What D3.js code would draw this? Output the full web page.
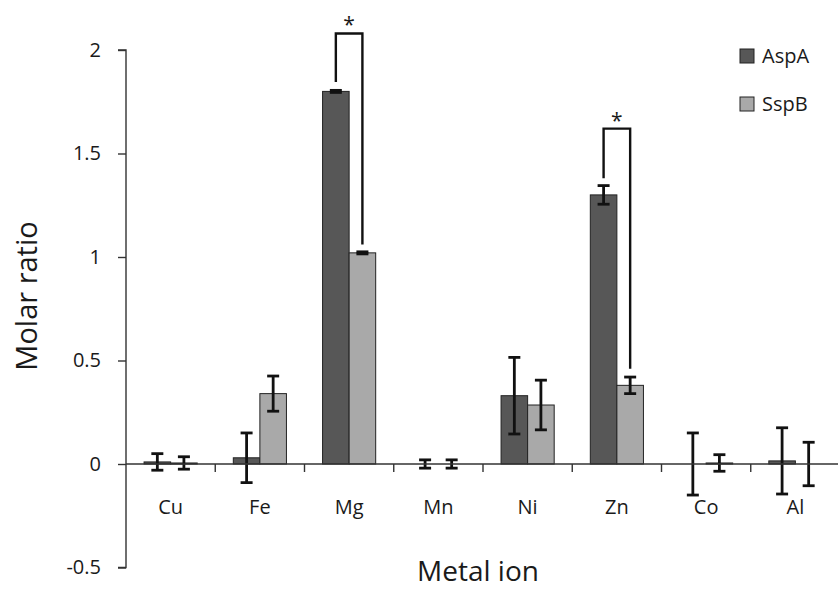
<!DOCTYPE html>
<html>
<head>
<meta charset="utf-8">
<script src="https://d3js.org/d3.v7.min.js"></script>
<style>
  body { margin: 0; background: #fff; }
  svg text { font-family: "Open Sans", sans-serif; fill: #1a1a1a; }
</style>
</head>
<body>
<svg width="838" height="591"></svg>
<script>
// data
var metals = ["Cu", "Fe", "Mg", "Mn", "Ni", "Zn", "Co", "Al"];
var series = ["AspA", "SspB"];
var aspA    = [0.01, 0.03, 1.80, 0.00, 0.33, 1.30, 0.00, 0.015];
var aspAErr = [0.04, 0.12, 0.005, 0.02, 0.185, 0.045, 0.15, 0.16];
var sspB    = [0.005, 0.34, 1.02, 0.00, 0.285, 0.38, 0.005, 0.00];
var sspBErr = [0.03, 0.085, 0.005, 0.02, 0.12, 0.04, 0.04, 0.105];
var yTicks = [-0.5, 0, 0.5, 1, 1.5, 2];
// significance brackets: category, top line, lower ends of both legs
var sig = [{ metal: "Mg", top: 2.08, leftEnd: 1.845, rightEnd: 1.06 },
           { metal: "Zn", top: 1.62, leftEnd: 1.38, rightEnd: 0.46 }];

var colors = { AspA: "#575757", SspB: "#a9a9a9" };

var svg = d3.select("svg");

var x = d3.scaleBand()
    .domain(metals)
    .range([126, 840]);

var xSub = d3.scaleBand()
    .domain(series)
    .range([0, x.bandwidth()])
    .paddingOuter(0.68);

var y = d3.scaleLinear()
    .domain([-0.5, 2])
    .range([567.5, 50]);

var rows = metals.map(function(m, i) {
  return { metal: m, values: [
    { s: "AspA", v: aspA[i], e: aspAErr[i] },
    { s: "SspB", v: sspB[i], e: sspBErr[i] }
  ]};
});

// y axis
var yAxis = svg.append("g")
    .attr("transform", "translate(126,0)")
    .call(d3.axisLeft(y).tickValues(yTicks).tickSize(8).tickPadding(17)
      .tickFormat(function(d) { return d; }));
yAxis.selectAll("text").style("font-size", "20px");
yAxis.selectAll("line, path").attr("stroke", "#333").attr("stroke-width", 1.4);
yAxis.select(".domain").attr("d", "M-8," + y(2) + "H0V" + y(-0.5) + "H-8");

// bars
var groups = svg.append("g").selectAll("g")
  .data(rows)
  .enter().append("g")
    .attr("transform", function(d) { return "translate(" + x(d.metal) + ",0)"; });

groups.selectAll("rect")
  .data(function(d) { return d.values; })
  .enter().append("rect")
    .attr("x", function(d) { return xSub(d.s); })
    .attr("width", xSub.bandwidth())
    .attr("y", function(d) { return y(Math.max(0, d.v)); })
    .attr("height", function(d) { return Math.abs(y(d.v) - y(0)); })
    .attr("fill", function(d) { return colors[d.s]; })
    .attr("stroke", "#222")
    .attr("stroke-width", 1);

// x axis line and category separators
svg.append("line")
    .attr("x1", 126).attr("x2", 838)
    .attr("y1", y(0)).attr("y2", y(0))
    .attr("stroke", "#333").attr("stroke-width", 1.4);

svg.append("g").selectAll("line")
  .data(metals.slice(1))
  .enter().append("line")
    .attr("x1", function(d) { return x(d); })
    .attr("x2", function(d) { return x(d); })
    .attr("y1", y(0)).attr("y2", y(0) + 8)
    .attr("stroke", "#333").attr("stroke-width", 1.4);

svg.append("g").selectAll("text")
  .data(metals)
  .enter().append("text")
    .attr("x", function(d) { return x(d) + x.bandwidth() / 2; })
    .attr("y", y(0) + 50)
    .attr("text-anchor", "middle")
    .style("font-size", "20px")
    .text(function(d) { return d; });

// error bars
var err = groups.selectAll("g.err")
  .data(function(d) { return d.values; })
  .enter().append("g")
    .attr("class", "err")
    .attr("stroke", "#111")
    .attr("stroke-width", 2.8);

function cx(d) { return xSub(d.s) + xSub.bandwidth() / 2; }

err.append("line")
    .attr("x1", cx).attr("x2", cx)
    .attr("y1", function(d) { return y(d.v + d.e); })
    .attr("y2", function(d) { return y(d.v - d.e); });
err.append("line")
    .attr("x1", function(d) { return cx(d) - 6; })
    .attr("x2", function(d) { return cx(d) + 6; })
    .attr("y1", function(d) { return y(d.v + d.e); })
    .attr("y2", function(d) { return y(d.v + d.e); });
err.append("line")
    .attr("x1", function(d) { return cx(d) - 6; })
    .attr("x2", function(d) { return cx(d) + 6; })
    .attr("y1", function(d) { return y(d.v - d.e); })
    .attr("y2", function(d) { return y(d.v - d.e); });

// significance brackets
var br = svg.append("g").selectAll("g")
  .data(sig)
  .enter().append("g");

br.append("path")
    .attr("fill", "none")
    .attr("stroke", "#111")
    .attr("stroke-width", 2.4)
    .attr("d", function(d) {
      var x1 = x(d.metal) + xSub("AspA") + xSub.bandwidth() / 2,
          x2 = x(d.metal) + xSub("SspB") + xSub.bandwidth() / 2;
      return "M" + x1 + "," + y(d.leftEnd) + "V" + y(d.top) +
             "H" + x2 + "V" + y(d.rightEnd);
    });

br.append("text")
    .attr("x", function(d) { return x(d.metal) + x.bandwidth() / 2; })
    .attr("y", function(d) { return y(d.top) - 1; })
    .attr("text-anchor", "middle")
    .style("font-size", "21px")
    .text("*");

// legend
var legend = svg.append("g").selectAll("g")
  .data(series)
  .enter().append("g")
    .attr("transform", function(d, i) { return "translate(740," + (49 + i * 48) + ")"; });

legend.append("rect")
    .attr("width", 14).attr("height", 14)
    .attr("fill", function(d) { return colors[d]; })
    .attr("stroke", "#222");

legend.append("text")
    .attr("x", 22).attr("y", 14)
    .style("font-size", "20px")
    .text(function(d) { return d; });

// axis titles
svg.append("text")
    .attr("x", 478).attr("y", 581)
    .attr("text-anchor", "middle")
    .style("font-size", "28px")
    .text("Metal ion");

svg.append("text")
    .attr("transform", "translate(37,296) rotate(-90)")
    .attr("text-anchor", "middle")
    .style("font-size", "29px")
    .text("Molar ratio");
</script>
</body>
</html>
